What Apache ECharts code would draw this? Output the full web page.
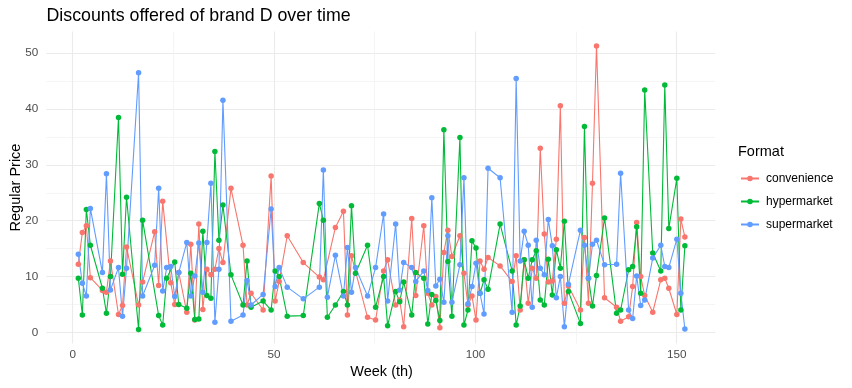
<!DOCTYPE html>
<html>
<head>
<meta charset="utf-8">
<script src="https://cdn.jsdelivr.net/npm/echarts@6/dist/echarts.min.js"></script>
<style>html,body{margin:0;padding:0;background:#fff}#c{width:852px;height:388px}</style>
</head>
<body>
<div id="c"></div>
<script>
// ---------------- DATA ----------------
const seriesNames = ['convenience', 'hypermarket', 'supermarket'];
const xTickValues = [0, 50, 100, 150];
const yTickValues = [0, 10, 20, 30, 40, 50];

const convWeeks = [1,2,3,4,7,8,9,11,12,13,16,17,20,21,22,24,25,26,28,29,30,31,32,33,34,35,36,37,39,42,43,44,47,49,50,51,53,57,61,62,65,67,68,69,73,75,77,78,80,81,82,84,85,87,88,89,90,91,92,93,94,96,97,98,99,100,101,102,103,106,109,110,111,112,113,114,115,116,117,118,119,120,121,122,123,126,127,128,129,130,132,135,136,138,139,140,141,142,144,146,147,148,150,151,152];
const convValues = [12.2,17.9,19.1,9.8,7.5,7.2,12.8,3.2,4.8,15.3,4.9,9.0,18.0,8.4,23.5,8.9,5.0,10.7,3.6,15.8,2.2,19.4,4.1,11.3,10.3,11.3,15.0,12.5,25.8,15.6,4.9,7.0,4.0,28.0,5.6,9.1,17.3,12.5,9.9,9.4,18.8,21.7,3.1,13.7,2.7,2.2,11.0,13.0,4.9,5.8,1.0,20.4,6.6,19.1,7.0,4.9,6.4,0.8,14.3,18.3,13.6,17.3,10.6,4.9,6.5,2.2,12.8,11.3,13.4,11.9,9.1,13.7,4.0,13.0,5.2,11.5,9.7,33.0,17.6,9.0,9.2,16.7,40.6,5.2,8.3,4.0,17.0,5.2,26.7,51.3,6.2,4.5,2.0,2.8,8.2,19.7,10.0,6.6,3.6,9.4,9.7,7.9,3.2,20.3,17.1];

const hyperWeeks = [1,2,3,4,7,8,9,11,12,13,16,17,21,22,23,25,26,28,29,30,31,32,33,34,35,36,37,39,42,43,44,47,49,50,51,53,57,61,62,63,65,67,68,69,70,73,75,77,78,80,81,82,84,85,87,88,89,90,91,92,93,94,96,97,98,99,100,101,102,103,106,109,110,111,112,113,114,115,116,117,118,119,120,121,122,123,126,127,128,129,130,132,135,136,138,139,140,141,142,144,146,147,148,150,151,152];
const hyperValues = [9.7,3.1,22.0,15.6,7.9,3.4,10.0,38.5,10.4,24.2,0.5,20.1,3.0,1.3,9.7,12.6,5.0,4.3,10.6,2.3,2.4,18.1,6.6,6.1,32.4,16.5,22.8,10.3,4.9,12.8,4.5,5.6,4.0,11.0,10.0,2.9,3.0,23.1,20.1,2.7,4.9,7.3,4.9,22.7,10.6,15.6,4.5,10.0,1.2,7.3,5.5,9.0,3.1,10.7,9.7,1.5,6.8,5.7,2.1,36.3,12.7,2.9,34.9,1.3,4.0,16.4,15.1,7.0,9.4,7.7,19.4,11.0,1.3,4.7,13.0,9.7,13.0,14.6,5.8,4.9,13.1,6.7,14.8,11.5,19.9,7.3,1.6,36.9,9.7,4.7,10.2,20.5,3.4,4.0,11.2,11.8,18.9,7.0,43.4,14.2,11.0,44.3,18.6,27.6,4.0,15.5];

const superWeeks = [1,2,3,4,7,8,9,11,12,13,16,17,20,21,22,23,24,25,26,28,29,30,31,32,33,34,35,36,37,39,42,43,44,47,49,50,51,53,57,61,62,63,65,67,68,69,70,73,75,77,78,80,81,82,84,85,87,88,89,90,91,92,93,94,96,97,98,99,100,101,102,103,106,109,110,111,112,113,114,115,116,117,118,119,120,121,122,123,126,127,128,129,130,132,135,136,138,139,140,141,142,144,146,147,148,150,151,152];
const superValues = [14.0,8.8,6.5,22.2,10.7,28.4,7.6,11.6,2.9,11.5,46.5,6.5,12.0,25.8,7.4,11.6,11.8,6.4,10.7,16.1,6.5,10.1,16.0,7.2,16.1,26.7,1.8,11.3,41.6,2.0,3.1,9.3,4.9,6.8,22.1,8.2,11.6,8.1,6.0,8.1,29.1,6.3,13.8,6.5,15.2,7.2,11.6,6.5,11.6,21.2,5.6,19.4,7.6,12.5,11.6,9.1,11.0,7.5,24.1,8.3,9.5,5.4,17.3,5.4,12.1,27.7,5.1,8.2,12.4,7.0,3.3,29.4,27.7,3.6,45.5,12.8,18.1,15.6,4.5,16.5,11.5,10.3,20.2,15.5,6.2,10.0,1.0,8.6,18.3,15.6,9.7,15.8,16.5,12.1,12.2,28.5,4.0,2.5,10.1,4.8,5.8,13.3,15.6,11.8,11.6,16.7,7.0,0.6];

// ---------------- LAYOUT ----------------
const colors = ['#F8766D', '#00BA38', '#619CFF'];
const FONT = '"Liberation Sans", Arial, sans-serif';
const X_MIN = -6.55, X_MAX = 159.55, Y_MIN = -2.0, Y_MAX = 53.9;
const PL = 46.3, PR = 715.2, PT = 31.5, PB = 343.5;
const kx = (PR - PL) / (X_MAX - X_MIN);
const ky = (PB - PT) / (Y_MAX - Y_MIN);
const xT0 = xTickValues[0], xT1 = xTickValues[xTickValues.length - 1];
const yT0 = yTickValues[0], yT1 = yTickValues[yTickValues.length - 1];

function pairs(w, v) { return w.map((x, i) => [x, v[i]]); }
const allData = [pairs(convWeeks, convValues), pairs(hyperWeeks, hyperValues), pairs(superWeeks, superValues)];

const chart = echarts.init(document.getElementById('c'), null, {renderer: 'canvas'});
const grid = [
  {left: PL, top: PT, width: PR - PL, height: PB - PT},
  {left: PL, width: PR - PL, top: PB - (yT1 - Y_MIN) * ky, height: (yT1 - yT0) * ky},
  {left: PL + (xT0 - X_MIN) * kx, width: (xT1 - xT0) * kx, top: PT, height: PB - PT}
];
const hidden = {axisLine: {show: false}, axisTick: {show: false}, axisLabel: {show: false}, splitLine: {show: false}};
const gridColor = '#EBEBEB', minorColor = '#F3F3F3';

chart.setOption({
  animation: false,
  backgroundColor: '#fff',
  textStyle: {fontFamily: FONT},
  title: [
    {text: 'Discounts offered of brand D over time', left: 46.5, top: 7, padding: 0,
     textStyle: {fontSize: 17.8, fontWeight: 'normal', color: '#000', fontFamily: FONT}},
    {text: 'Format', left: 738, top: 144, padding: 0,
     textStyle: {fontSize: 14.5, fontWeight: 'normal', color: '#000', fontFamily: FONT}}
  ],
  legend: {
    orient: 'vertical', left: 735, top: 167.5, itemWidth: 18, itemHeight: 7, itemGap: 11,
    textStyle: {fontSize: 12, color: '#000', fontFamily: FONT, padding: [0, 0, 0, 2]},
    data: seriesNames
  },
  grid: grid,
  xAxis: [
    Object.assign({gridIndex: 0, type: 'value', min: X_MIN, max: X_MAX, name: 'Week (th)', nameLocation: 'middle', nameGap: 21,
      nameTextStyle: {fontSize: 14.5, color: '#000', fontFamily: FONT}}, hidden),
    {gridIndex: 1, type: 'value', min: 0, max: 1, show: false},
    {gridIndex: 2, type: 'value', min: xT0, max: xT1, interval: 50,
      axisLine: {show: false}, axisTick: {show: false},
      axisLabel: {color: '#4D4D4D', fontSize: 11.7, margin: 5, fontFamily: FONT},
      splitLine: {show: true, lineStyle: {color: gridColor, width: 1.1}},
      minorTick: {show: false, splitNumber: 2},
      minorSplitLine: {show: true, lineStyle: {color: minorColor, width: 0.8}}}
  ],
  yAxis: [
    Object.assign({gridIndex: 0, type: 'value', min: Y_MIN, max: Y_MAX, name: 'Regular Price', nameLocation: 'middle', nameGap: 25, nameRotate: 90,
      nameTextStyle: {fontSize: 14.5, color: '#000', fontFamily: FONT}}, hidden),
    {gridIndex: 1, type: 'value', min: yT0, max: yT1, interval: 10,
      axisLine: {show: false}, axisTick: {show: false},
      axisLabel: {color: '#4D4D4D', fontSize: 11.7, margin: 8, fontFamily: FONT},
      splitLine: {show: true, lineStyle: {color: gridColor, width: 1.1}},
      minorTick: {show: false, splitNumber: 2},
      minorSplitLine: {show: true, lineStyle: {color: minorColor, width: 0.8}}},
    {gridIndex: 2, type: 'value', min: 0, max: 1, show: false}
  ],
  series: seriesNames.map((n, i) => ({
    name: n, type: 'line', xAxisIndex: 0, yAxisIndex: 0,
    data: allData[i], showSymbol: true, showAllSymbol: true, symbol: 'circle', symbolSize: 5.5,
    itemStyle: {color: colors[i]}, lineStyle: {color: colors[i], width: 1.1},
    emphasis: {disabled: true}, clip: false
  }))
});
</script>
</body>
</html>
